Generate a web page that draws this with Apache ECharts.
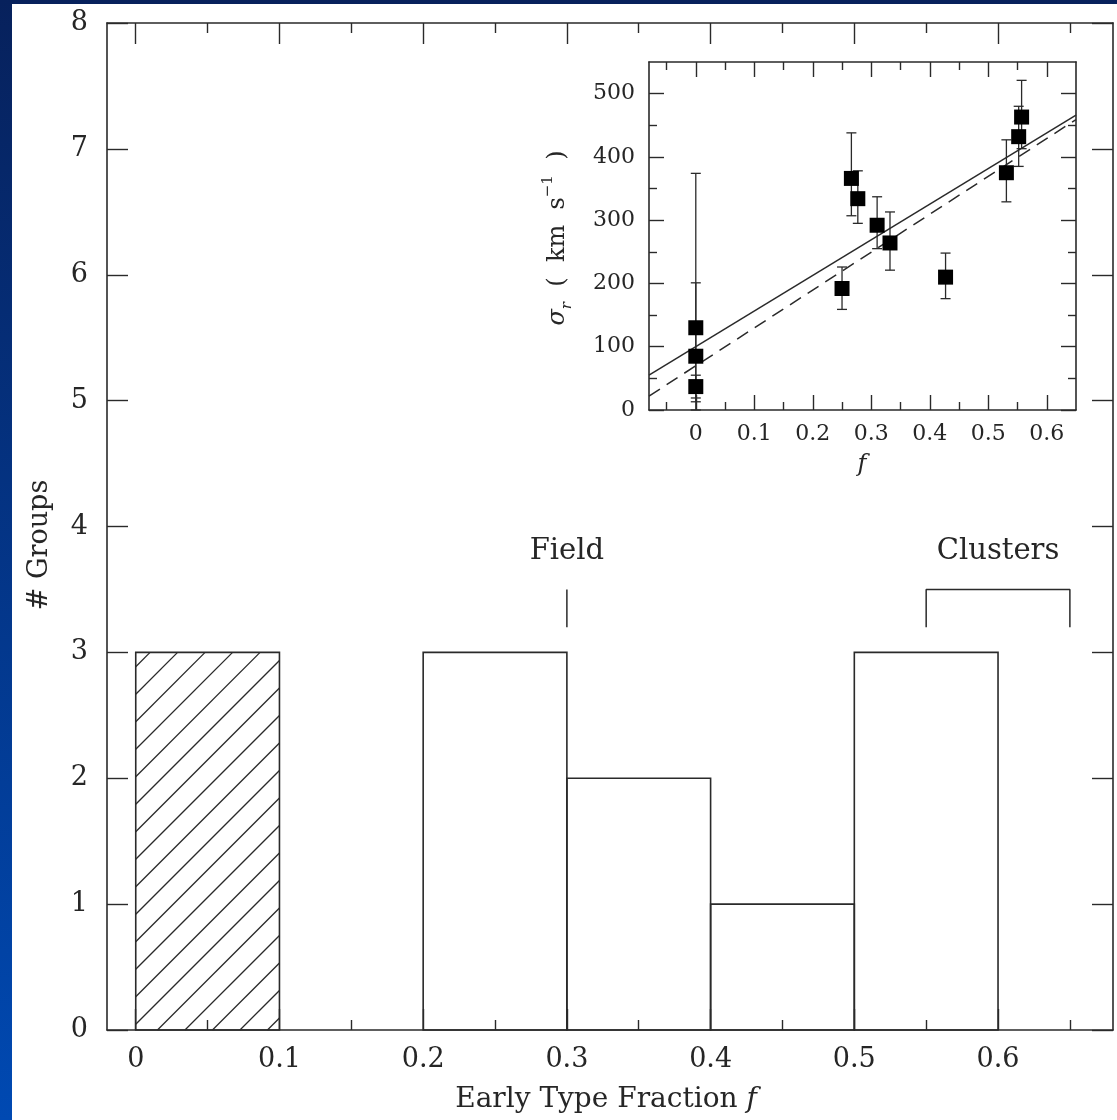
<!DOCTYPE html>
<html>
<head>
<meta charset="utf-8">
<script src="https://cdn.jsdelivr.net/npm/echarts@6/dist/echarts.min.js"></script>
<style>html,body{margin:0;padding:0;background:#fff;}#chart{width:1117px;height:1120px;}</style>
</head>
<body>
<div id="chart"></div>
<script>
// ---------- main histogram data ----------
const binStart   = [0, 0.2, 0.3, 0.4, 0.5];
const binEnd     = [0.1, 0.3, 0.4, 0.5, 0.6];
const binCount   = [3, 3, 2, 1, 3];
const binHatched = [1, 0, 0, 0, 0];

const mainXLabels = [0, 0.1, 0.2, 0.3, 0.4, 0.5, 0.6];
const mainXMinor  = [0.05, 0.15, 0.25, 0.35, 0.45, 0.55, 0.65];
const mainYLabels = [0, 1, 2, 3, 4, 5, 6, 7, 8];

// annotations
const annotText = ['Field', 'Clusters'];
const annotX    = [0.3, 0.6];
const annotY    = [3.8, 3.8];
const fieldTick      = [[0.3, 3.2], [0.3, 3.5]];
const clusterBracket = [[0.55, 3.2], [0.55, 3.5], [0.65, 3.5], [0.65, 3.2]];

// ---------- inset data ----------
const insetF     = [0, 0, 0, 0.25, 0.266, 0.277, 0.31, 0.332, 0.427, 0.531, 0.552, 0.557];
const insetSigma = [130, 85, 37, 192, 366, 334, 292, 264, 210, 375, 432, 463];
const insetLo    = [0, 13, 19, 159, 307, 295, 255, 221, 176, 329, 385, 413];
const insetHi    = [374, 201, 55, 226, 438, 378, 337, 313, 248, 427, 480, 521];
const solidFit   = [[-0.08, 55], [0.65, 466]];
const dashedFit  = [[-0.08, 22], [0.65, 459]];

const insetXLabels = [0, 0.1, 0.2, 0.3, 0.4, 0.5, 0.6];
const insetXMinor  = [-0.05, 0.05, 0.15, 0.25, 0.35, 0.45, 0.55];
const insetYLabels = [0, 100, 200, 300, 400, 500];
const insetYMinor  = [50, 150, 250, 350, 450];

// ---------- styling ----------
const FONT = 'DejaVu Serif';
const INK = '#262626';
const LINE = '#2a2a2a';

function axis(o) {
  return {
    type: 'value',
    gridIndex: o.grid,
    position: o.pos,
    min: o.min, max: o.max,
    splitLine: { show: false },
    axisLine: { show: o.line !== false, onZero: false, lineStyle: { color: LINE, width: 1.6 } },
    axisTick: { show: true, inside: true, length: o.len, customValues: o.ticks,
                lineStyle: { color: LINE, width: 1.4 } },
    axisLabel: o.labels ? { show: true, customValues: o.ticks, margin: o.margin,
                fontFamily: FONT, fontSize: o.fs, color: INK,
                formatter: v => String(v) } : { show: false }
  };
}

const xAxes = [
  axis({grid:0,pos:'bottom',min:-0.02,max:0.68,len:21,ticks:mainXLabels,labels:true,margin:16,fs:27}),
  axis({grid:0,pos:'top',min:-0.02,max:0.68,len:21,ticks:mainXLabels}),
  axis({grid:0,pos:'bottom',min:-0.02,max:0.68,len:10,ticks:mainXMinor,line:false}),
  axis({grid:0,pos:'top',min:-0.02,max:0.68,len:10,ticks:mainXMinor,line:false}),
  axis({grid:1,pos:'bottom',min:-0.08,max:0.65,len:15,ticks:insetXLabels,labels:true,margin:13,fs:22}),
  axis({grid:1,pos:'top',min:-0.08,max:0.65,len:15,ticks:insetXLabels}),
  axis({grid:1,pos:'bottom',min:-0.08,max:0.65,len:8,ticks:insetXMinor,line:false}),
  axis({grid:1,pos:'top',min:-0.08,max:0.65,len:8,ticks:insetXMinor,line:false})
];
const yAxes = [
  axis({grid:0,pos:'left',min:0,max:8,len:21,ticks:mainYLabels,labels:true,margin:19,fs:27}),
  axis({grid:0,pos:'right',min:0,max:8,len:21,ticks:mainYLabels}),
  axis({grid:1,pos:'left',min:0,max:550,len:15,ticks:insetYLabels,labels:true,margin:14,fs:22}),
  axis({grid:1,pos:'right',min:0,max:550,len:15,ticks:insetYLabels}),
  axis({grid:1,pos:'left',min:0,max:550,len:8,ticks:insetYMinor,line:false}),
  axis({grid:1,pos:'right',min:0,max:550,len:8,ticks:insetYMinor,line:false})
];

const binData = binStart.map((s, i) => [s, binEnd[i], binCount[i], binHatched[i]]);
const errData = insetF.map((f, i) => [f, insetSigma[i], insetLo[i], insetHi[i]]);
const pointData = insetF.map((f, i) => [f, insetSigma[i]]);
const annotData = annotText.map((t, i) => [annotX[i], annotY[i], t]);

function renderBin(params, api) {
  const x0 = api.value(0), x1 = api.value(1), c = api.value(2), h = api.value(3);
  const bl = api.coord([x0, 0]);
  const tr = api.coord([x1, c]);
  const rx = bl[0], ry = tr[1], rw = tr[0] - bl[0], rh = bl[1] - tr[1];
  const children = [{
    type: 'rect', shape: { x: rx, y: ry, width: rw, height: rh },
    style: { fill: 'none', stroke: LINE, lineWidth: 1.6 }
  }];
  if (h) {
    const s = 27.5;
    let start = rx + 21.7 - Math.ceil(rh / s) * s;
    for (let c0 = start; c0 < rx + rw; c0 += s) {
      const t0 = Math.max(0, rx - c0);
      const t1 = Math.min(rh, rx + rw - c0);
      if (t1 > t0) {
        children.push({
          type: 'line',
          shape: { x1: c0 + t0, y1: bl[1] - t0, x2: c0 + t1, y2: bl[1] - t1 },
          style: { stroke: LINE, lineWidth: 1.3 }
        });
      }
    }
  }
  return { type: 'group', children };
}

function renderErr(params, api) {
  const x = api.value(0), lo = api.value(2), hi = api.value(3);
  const a = api.coord([x, lo]), b = api.coord([x, hi]);
  const cap = 5;
  const st = { stroke: LINE, lineWidth: 1.3 };
  return { type: 'group', children: [
    { type: 'line', shape: { x1: a[0], y1: a[1], x2: b[0], y2: b[1] }, style: st },
    { type: 'line', shape: { x1: a[0]-cap, y1: a[1], x2: a[0]+cap, y2: a[1] }, style: st },
    { type: 'line', shape: { x1: b[0]-cap, y1: b[1], x2: b[0]+cap, y2: b[1] }, style: st }
  ]};
}

function renderAnnot(params, api) {
  const p = api.coord([api.value(0), api.value(1)]);
  return { type: 'text', x: p[0], y: p[1],
    style: { text: annotText[params.dataIndex], fontFamily: FONT, fontSize: 29, fill: INK,
             align: 'center', verticalAlign: 'middle' } };
}

const option = {
  animation: false,
  backgroundColor: { type: 'linear', x: 0, y: 0, x2: 0, y2: 1,
    colorStops: [{ offset: 0, color: '#07215c' }, { offset: 1, color: '#0049b2' }] },
  grid: [
    { left: 107, top: 23, width: 1006, height: 1007, outerBoundsMode: 'none' },
    { left: 649, top: 62, width: 427, height: 348, outerBoundsMode: 'none' }
  ],
  xAxis: xAxes,
  yAxis: yAxes,
  graphic: [
    { type: 'rect', z: -100, shape: { x: 12, y: 4, width: 1117, height: 1120 }, style: { fill: '#ffffff' } },
    { type: 'text', x: 606, y: 1100,
      style: { text: 'Early Type Fraction {i|f}', fontFamily: FONT, fontSize: 28, fill: INK,
               align: 'center', verticalAlign: 'middle',
               rich: { i: { fontFamily: FONT, fontSize: 28, fontStyle: 'italic', fill: INK } } } },
    { type: 'text', x: 40, y: 545, rotation: Math.PI / 2,
      style: { text: '# Groups', fontFamily: FONT, fontSize: 27, fill: INK,
               align: 'center', verticalAlign: 'middle' } },
    { type: 'text', x: 558, y: 238, rotation: Math.PI / 2,
      style: { text: '{g|σ}{sub|r}{m|  (  km  s}{sup|−1}{m|  )}', fill: INK,
               align: 'center', verticalAlign: 'middle',
               rich: {
                 g:   { fontFamily: FONT, fontSize: 24, fontStyle: 'italic', fill: INK, lineHeight: 34 },
                 m:   { fontFamily: FONT, fontSize: 24, fill: INK, lineHeight: 34 },
                 sub: { fontFamily: FONT, fontSize: 15, fontStyle: 'italic', fill: INK, verticalAlign: 'bottom', lineHeight: 34 },
                 sup: { fontFamily: FONT, fontSize: 15, fill: INK, verticalAlign: 'top', lineHeight: 34 }
               } } },
    { type: 'text', x: 862, y: 465,
      style: { text: 'f', fontFamily: FONT, fontSize: 24, fontStyle: 'italic', fill: INK,
               align: 'center', verticalAlign: 'middle' } }
  ],
  series: [
    { type: 'custom', name: 'histogram', xAxisIndex: 0, yAxisIndex: 0,
      renderItem: renderBin, data: binData, clip: false, z: 3 },
    { type: 'line', name: 'field', xAxisIndex: 0, yAxisIndex: 0, data: fieldTick,
      showSymbol: false, symbol: 'none', lineStyle: { color: LINE, width: 1.5 } },
    { type: 'line', name: 'clusters', xAxisIndex: 0, yAxisIndex: 0, data: clusterBracket,
      showSymbol: false, symbol: 'none', lineStyle: { color: LINE, width: 1.5 } },
    { type: 'custom', name: 'annot', xAxisIndex: 0, yAxisIndex: 0,
      renderItem: renderAnnot, data: annotData, clip: false },
    { type: 'line', name: 'fit', xAxisIndex: 4, yAxisIndex: 2, data: solidFit,
      showSymbol: false, symbol: 'none', lineStyle: { color: LINE, width: 1.5 } },
    { type: 'line', name: 'fit2', xAxisIndex: 4, yAxisIndex: 2, data: dashedFit,
      showSymbol: false, symbol: 'none', lineStyle: { color: LINE, width: 1.5, type: [13, 8] } },
    { type: 'custom', name: 'err', xAxisIndex: 4, yAxisIndex: 2,
      renderItem: renderErr, data: errData, clip: false },
    { type: 'scatter', name: 'pts', xAxisIndex: 4, yAxisIndex: 2, data: pointData,
      symbol: 'rect', symbolSize: 15, itemStyle: { color: '#000', opacity: 1 }, z: 5 }
  ]
};

const chart = echarts.init(document.getElementById('chart'), null, { renderer: 'canvas' });
chart.setOption(option);
</script>
</body>
</html>
